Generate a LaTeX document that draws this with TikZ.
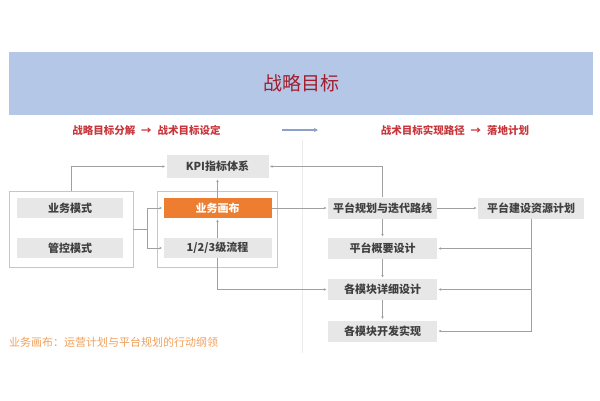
\documentclass[tikz,border=0pt]{standalone}
\usepackage{fontspec}
\setmainfont{Noto Sans CJK SC}
\usetikzlibrary{arrows.meta}
\definecolor{bannerblue}{RGB}{180,199,231}
\definecolor{titlered}{RGB}{160,30,45}
\definecolor{subred}{RGB}{200,55,60}
\definecolor{canvasorange}{RGB}{237,125,49}
\definecolor{noteorange}{RGB}{240,160,90}
\definecolor{boxgray}{RGB}{231,231,231}
\definecolor{linegray}{RGB}{160,160,160}
\definecolor{textgray}{RGB}{64,64,64}
\definecolor{arrowblue}{RGB}{140,160,200}
\begin{document}
\begin{tikzpicture}[x=1pt,y=-1pt,
  item/.style={fill=boxgray,text=textgray,minimum height=21pt,inner sep=0pt,font=\fontsize{11}{13}\selectfont\bfseries},
  frame/.style={draw=linegray!60,fill=white,line width=0.6pt,minimum height=76pt,inner sep=0pt},
  wire/.style={draw=linegray,line width=0.5pt},
  link/.style={wire,shorten >=1.5pt,-{Stealth[length=2.5pt,width=2.5pt]}}]
\useasboundingbox (0,0) rectangle (600,400);
\node[fill=bannerblue,minimum width=584pt,minimum height=63pt,inner sep=0pt,text=titlered,font=\fontsize{19}{22}\selectfont] (banner) at (301,83.5) {战略目标};
\node[text=subred,font=\fontsize{10.5}{12}\selectfont\bfseries] (splitL) at (146.5,130) {战略目标分解\hspace{6pt}→\hspace{6pt}战术目标设定};
\node[text=subred,font=\fontsize{10.5}{12}\selectfont\bfseries] (splitR) at (455,130) {战术目标实现路径\hspace{6pt}→\hspace{6pt}落地计划};
\coordinate (arrS) at (282,130);
\coordinate (arrE) at (318,130);
\draw[arrowblue,line width=1.2pt,-{Stealth[length=4pt,width=4pt]}] (arrS) -- (arrE);
\coordinate (divT) at (302,140);
\coordinate (divB) at (302,353);
\draw[gray!15,line width=0.6pt] (divT) -- (divB);
\node[frame,minimum width=124pt] (outerL) at (71,229) {};
\node[frame,minimum width=120pt] (outerM) at (217,229) {};
\node[item,minimum width=102pt,minimum height=23pt] (kpi) at (217.5,166.5) {KPI指标体系};
\node[item,minimum width=106pt,minimum height=20pt] (bizmode) at (70,208) {业务模式};
\node[item,minimum width=106pt,minimum height=20pt] (ctrlmode) at (70,248) {管控模式};
\node[item,minimum width=108pt,minimum height=20pt,fill=canvasorange,text=white] (canvas) at (217.5,208) {业务画布};
\node[item,minimum width=108pt,minimum height=20pt] (flow) at (217.5,248) {1/2/3级流程};
\node[item,minimum width=109pt] (roadmap) at (382.5,208) {平台规划与迭代路线};
\node[item,minimum width=106pt] (resource) at (531,208) {平台建设资源计划};
\node[item,minimum width=109pt] (outline) at (382.5,248.5) {平台概要设计};
\node[item,minimum width=109pt] (detail) at (382.5,289.5) {各模块详细设计};
\node[item,minimum width=109pt] (develop) at (382.5,331) {各模块开发实现};
\node[anchor=west,text=noteorange,inner sep=0pt,font=\fontsize{11}{13}\selectfont] (note) at (9,342) {业务画布：运营计划与平台规划的行动纲领};
\coordinate (fork) at (147,229);
\draw[link] (outerL.north) |- (kpi.west);
\draw[wire] (outerL.east) -- (fork);
\draw[link] (fork) |- (canvas.west);
\draw[link] (fork) |- (flow.west);
\draw[link] (canvas) -- (kpi);
\draw[link] (flow) -- (canvas);
\draw[link] (flow.south) |- (detail.west);
\draw[link] (canvas) -- (roadmap);
\draw[link] (roadmap.north) |- (kpi.east);
\draw[link] (roadmap) -- (resource);
\draw[link] (roadmap) -- (outline);
\draw[link] (outline) -- (detail);
\draw[link] (detail) -- (develop);
\draw[link] (resource.south) |- (outline.east);
\draw[link] (resource.south) |- (detail.east);
\draw[link] (resource.south) |- (develop.east);
\end{tikzpicture}
\end{document}
